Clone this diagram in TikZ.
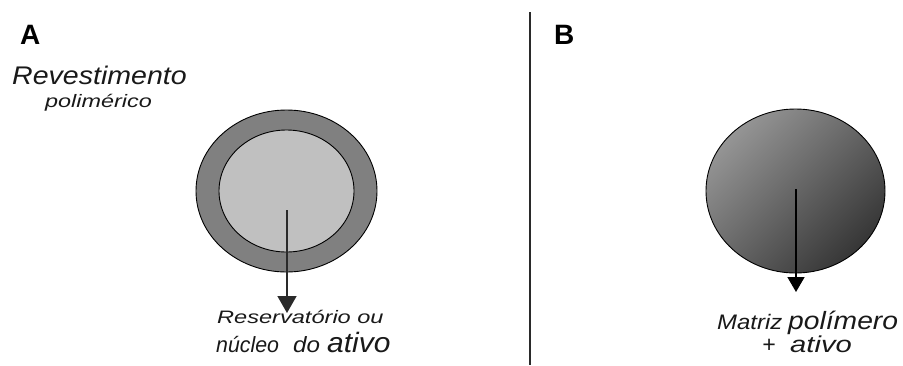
\documentclass[tikz,border=0pt]{standalone}
\usepackage{fontspec}
\setmainfont{Liberation Sans}
\usepackage{graphicx}
\usetikzlibrary{arrows.meta,shapes.geometric}

\definecolor{ringgray}{HTML}{808080}
\definecolor{coregray}{HTML}{C0C0C0}
\definecolor{matlight}{HTML}{959595}
\definecolor{matdark}{HTML}{363636}
\definecolor{rulegray}{HTML}{2A2A2A}

% horizontally stretched text: \widetxt{xscale}{size}{text}
\newcommand\widetxt[3]{\scalebox{#1}[1]{\fontsize{#2}{#2}\selectfont #3}}

\begin{document}
\begin{tikzpicture}[x=1pt,y=-1pt,
  blob/.style={ellipse, draw=black, line width=0.9pt, inner sep=0pt},
  txt/.style={inner sep=0pt, anchor=base west, font=\itshape, text=black!90},
  panel/.style={inner sep=0pt, anchor=base west, font=\bfseries\fontsize{28}{28}\selectfont},
  releaseA/.style={draw=rulegray, line width=1.6pt, -{Triangle[width=19pt,length=17pt]}},
  releaseB/.style={draw=black, line width=1.6pt, -{Triangle[width=17pt,length=15pt]}}]

\fill[white] (0,0) rectangle (903,365);
\useasboundingbox (0,0) rectangle (903,365);

% panel letters and divider
\node[panel] (labA) at (20,44) {A};
\node[panel] (labB) at (554,44) {B};
\coordinate (divTop) at (530,12);
\coordinate (divBot) at (530,365);
\draw[rulegray, line width=1.5pt] (divTop) -- (divBot);

% A: reservoir capsule (coating + core)
\node[blob, fill=ringgray, minimum width=181pt, minimum height=162pt] (shell) at (286.5,191) {};
\node[blob, fill=coregray, minimum width=135pt, minimum height=122pt] (core) at (286.5,191) {};
\coordinate (coreTop) at (287,210);
\coordinate (coreOut) at (287,313);
\draw[releaseA] (coreTop) -- (coreOut);

\node[txt] (coatA) at (12,84) {\widetxt{1.12}{25.5}{Revestimento}};
\node[txt] (coatB) at (45,107) {\widetxt{1.3}{18}{polimérico}};
\node[txt] (resA) at (217,323) {\widetxt{1.31}{18}{Reservatório ou}};
\node[txt] (resB) at (216,352) {\widetxt{0.97}{22}{núcleo}};
\node[txt] (resC) at (293,352) {\widetxt{1.1}{22}{do}};
\node[txt] (resD) at (327,352) {\widetxt{1.07}{28}{ativo}};

% B: matrix sphere
\node[blob, minimum width=179pt, minimum height=164pt,
      shading=axis, top color=matlight, bottom color=matdark, shading angle=45] (matrix) at (795.5,191) {};
\coordinate (matTop) at (796,189);
\coordinate (matOut) at (796,292);
\draw[releaseB] (matTop) -- (matOut);

\node[txt] (matA) at (717,329) {\widetxt{1.14}{21}{Matriz}};
\node[txt] (matB) at (788,329) {\widetxt{1.13}{25}{polímero}};
\node[txt] (matC) at (762,352) {\widetxt{1.0}{23}{+}};
\node[txt] (matD) at (790,352) {\widetxt{1.27}{23}{ativo}};
\end{tikzpicture}
\end{document}
